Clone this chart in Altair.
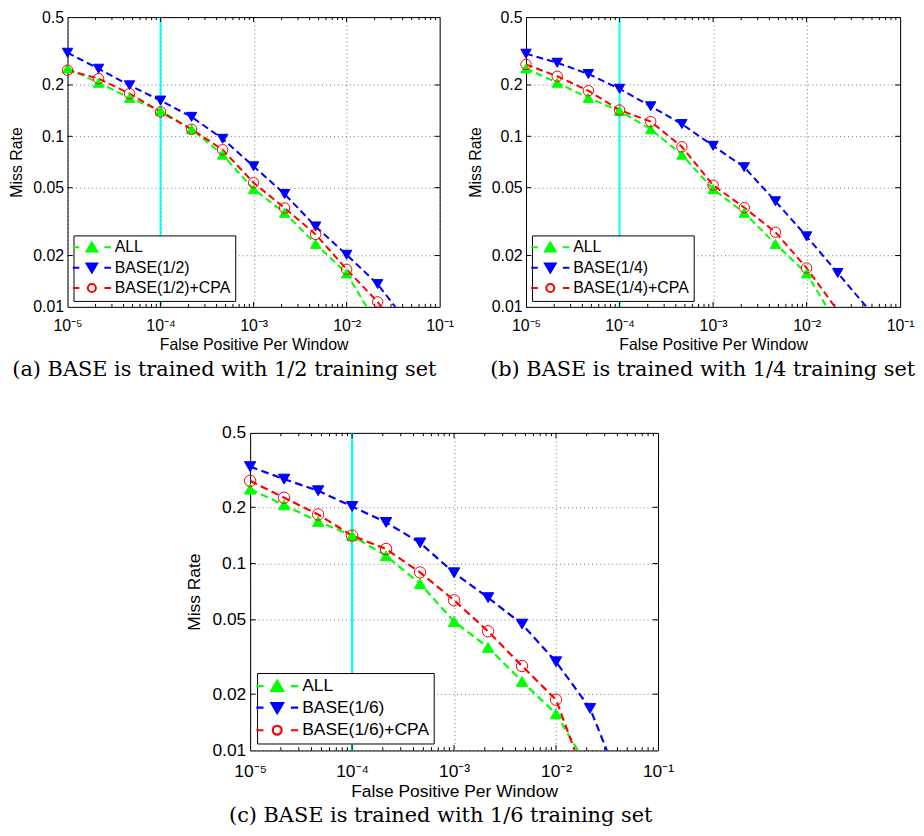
import altair as alt
import pandas as pd

# ---------------- data ----------------
FPPW = [1e-5, 2.154e-5, 4.642e-5, 1e-4, 2.154e-4, 4.642e-4,
        1e-3, 2.154e-3, 4.642e-3, 1e-2, 2.154e-2, 4.642e-2]

ALL = [0.250, 0.206, 0.168, 0.141, 0.110, 0.078, 0.049, 0.0356, 0.0234, 0.0157, 0.0078]

BASE_HALF = [0.309, 0.249, 0.199, 0.162, 0.130, 0.0967, 0.0667, 0.0459, 0.0296, 0.0202, 0.0136, 0.0079]
CPA_HALF = [0.244, 0.218, 0.178, 0.139, 0.110, 0.0834, 0.0534, 0.0380, 0.0266, 0.0166, 0.0107, 0.0060]

BASE_QUARTER = [0.305, 0.270, 0.232, 0.190, 0.150, 0.118, 0.088, 0.0659, 0.0416, 0.0259, 0.0158, 0.0096]
CPA_QUARTER = [0.264, 0.225, 0.185, 0.1426, 0.122, 0.0868, 0.0517, 0.0382, 0.0274, 0.0169, 0.0095]

BASE_SIXTH = [0.330, 0.283, 0.245, 0.202, 0.166, 0.129, 0.0892, 0.0657, 0.0474, 0.0298, 0.0168, 0.0059]
CPA_SIXTH = [0.277, 0.225, 0.183, 0.141, 0.1196, 0.0896, 0.0636, 0.0434, 0.0283, 0.0187, 0.0060]

NAMES_A = ["ALL", "BASE(1/2)", "BASE(1/2)+CPA"]
NAMES_B = ["ALL", "BASE(1/4)", "BASE(1/4)+CPA"]
NAMES_C = ["ALL", "BASE(1/6)", "BASE(1/6)+CPA"]

CAPTION_A = "(a) BASE is trained with 1/2 training set"
CAPTION_B = "(b) BASE is trained with 1/4 training set"
CAPTION_C = "(c) BASE is trained with 1/6 training set"

REF_FPPW = [1e-4]
X_TICKS = [1e-5, 1e-4, 1e-3, 1e-2, 1e-1]
X_LABELS = ["10⁻⁵", "10⁻⁴", "10⁻³", "10⁻²", "10⁻¹"]
X_MINOR = [m * d for d in [1e-5, 1e-4, 1e-3, 1e-2] for m in range(2, 10)]
Y_TICKS = [0.01, 0.02, 0.05, 0.1, 0.2, 0.5]

# ---------------- styling ----------------
COLORS = ["#00FF00", "#0000FF", "#FF0000"]
FILLS = ["#00FF00", "#0000FF", "transparent"]
SHAPES = ["triangle-up", "triangle-down", "circle"]
LEG_PATHS = [
    "M-3.2,0H-2.1M-0.9,0.72L0,-0.82L0.9,0.72ZM2.1,0H3.2",
    "M-3.2,0H-2.1M-0.9,-0.72L0,0.82L0.9,-0.72ZM2.1,0H3.2",
    "M-3.2,0H-2.1M0.68,0A0.68,0.68,0,1,1,-0.68,0A0.68,0.68,0,1,1,0.68,0ZM2.1,0H3.2",
]
FONT = "Liberation Sans"
CAP_FONT = "DejaVu Serif"

label_expr = " : ".join(
    [f"datum.value < {X_TICKS[i] * 3.0} ? '{X_LABELS[i]}'" for i in range(len(X_TICKS) - 1)]
) + f" : '{X_LABELS[-1]}'"


def panel(names, series, width, height, s, caption, cap_dx, cap_offset):
    rows = []
    for name, vals in zip(names, series):
        for x, y in zip(FPPW, vals):
            rows.append({"fppw": x, "miss": y, "series": name})
    df = pd.DataFrame(rows)
    fs = 16 * s

    xscale = alt.Scale(type="log", domain=[1e-5, 1e-1], nice=False)
    yscale = alt.Scale(type="log", domain=[0.01, 0.5], nice=False)
    xaxis = alt.Axis(values=X_TICKS, labelExpr=label_expr, title="False Positive Per Window",
                     grid=True, gridDash=[1, 3], gridColor="#000000", gridOpacity=0.55,
                     domain=False, ticks=False, labelFont=FONT, labelFontSize=fs,
                     labelColor="black", labelPadding=11 * s, labelFlush=False,
                     labelOverlap=False, titleFont=FONT, titleFontSize=fs,
                     titleFontWeight="normal", titleColor="black", titlePadding=3 * s)
    yaxis = alt.Axis(values=Y_TICKS, format=".2~f", title="Miss Rate",
                     grid=True, gridDash=[1, 3], gridColor="#000000", gridOpacity=0.55,
                     domain=False, ticks=False, labelFont=FONT, labelFontSize=fs,
                     labelColor="black", labelPadding=4 * s, labelFlush=False,
                     labelOverlap=False, titleFont=FONT, titleFontSize=fs,
                     titleFontWeight="normal", titleColor="black", titlePadding=8 * s)
    X = alt.X("fppw:Q", scale=xscale, axis=xaxis)
    Y = alt.Y("miss:Q", scale=yscale, axis=yaxis)

    cyan = alt.Chart(pd.DataFrame({"fppw": REF_FPPW})).mark_rule(
        color="#00FFFF", strokeWidth=2 * s).encode(x=X)

    def xt(vals, at_top, ln):
        y0 = 0 if at_top else height
        y1 = ln if at_top else height - ln
        return alt.Chart(pd.DataFrame({"fppw": vals})).mark_rule(
            color="black", strokeWidth=1).encode(x=X, y=alt.value(y0), y2=alt.value(y1))

    def yt(vals, at_right, ln):
        x0 = width if at_right else 0
        x1 = width - ln if at_right else ln
        return alt.Chart(pd.DataFrame({"miss": vals})).mark_rule(
            color="black", strokeWidth=1).encode(y=Y, x=alt.value(x0), x2=alt.value(x1))

    ticks = [xt(X_TICKS[1:-1], False, 5 * s), xt(X_TICKS[1:-1], True, 5 * s),
             xt(X_MINOR, False, 3 * s), xt(X_MINOR, True, 3 * s),
             yt(Y_TICKS[1:-1], False, 5 * s), yt(Y_TICKS[1:-1], True, 5 * s)]

    base = alt.Chart(df)
    lines = base.mark_line(strokeDash=[7 * s, 4 * s], strokeWidth=2 * s, clip=True).encode(
        x=X, y=Y,
        stroke=alt.Stroke("series:N", scale=alt.Scale(domain=names, range=COLORS), legend=None),
    )
    points = base.transform_filter("datum.miss >= 0.0099").mark_point(opacity=1).encode(
        x=X, y=Y,
        shape=alt.Shape("series:N", scale=alt.Scale(domain=names, range=SHAPES), legend=None),
        fill=alt.Fill("series:N", scale=alt.Scale(domain=names, range=FILLS), legend=None),
        stroke=alt.Stroke("series:N", scale=alt.Scale(domain=names, range=COLORS), legend=None),
        size=alt.Size("series:N", scale=alt.Scale(domain=names, range=[110 * s * s, 110 * s * s, 56 * s * s]), legend=None),
        strokeWidth=alt.StrokeWidth("series:N", scale=alt.Scale(domain=names, range=[1, 1, 2 * s]), legend=None),
    )
    leg = alt.Legend(title=None, orient="bottom-left", offset=6 * s, padding=4 * s,
                     fillColor="white", strokeColor="black", cornerRadius=0,
                     labelFont=FONT, labelFontSize=fs, labelColor="black",
                     symbolSize=144 * s * s, symbolStrokeWidth=2 * s,
                     symbolOffset=6.5 * s, labelOffset=15 * s, rowPadding=2.5 * s,
                     symbolOpacity=1)
    legend_layer = base.transform_filter("false").mark_point(opacity=1).encode(
        shape=alt.Shape("series:N", scale=alt.Scale(domain=names, range=LEG_PATHS), legend=leg),
        fill=alt.Fill("series:N", scale=alt.Scale(domain=names, range=FILLS), legend=leg),
        stroke=alt.Stroke("series:N", scale=alt.Scale(domain=names, range=COLORS), legend=leg),
    )

    return alt.layer(cyan, *ticks, lines, points, legend_layer).resolve_scale(
        shape="independent", fill="independent", stroke="independent",
        size="independent", strokeWidth="independent",
    ).properties(
        width=width, height=height,
        title=alt.TitleParams(caption, orient="bottom", anchor="middle", frame="group",
                              font=CAP_FONT, fontSize=21, fontWeight="normal",
                              color="black", offset=cap_offset, dx=cap_dx),
    )


pa = panel(NAMES_A, [ALL, BASE_HALF, CPA_HALF], 375, 292, 1.0, CAPTION_A, -29.5, 7)
pb = panel(NAMES_B, [ALL, BASE_QUARTER, CPA_QUARTER], 377, 292, 1.0, CAPTION_B, -10.5, 7)
pc = panel(NAMES_C, [ALL, BASE_SIXTH, CPA_SIXTH], 411, 320, 1.096, CAPTION_C, -13.5, 5)

spacer = alt.Chart(pd.DataFrame({"s": []})).mark_point().properties(
    width=117, height=1, view=alt.ViewBackground(stroke="transparent"))

row1 = alt.hconcat(pa, pb, spacing=12)
row2 = alt.hconcat(spacer, pc, spacing=0)

chart = alt.vconcat(row1, row2, spacing=42).properties(
    padding={"left": 0, "top": -3, "right": 0, "bottom": 0}
).configure_view(stroke="black", strokeWidth=1)

chart.save("out.html", embed_options={"renderer": "svg", "actions": False})
